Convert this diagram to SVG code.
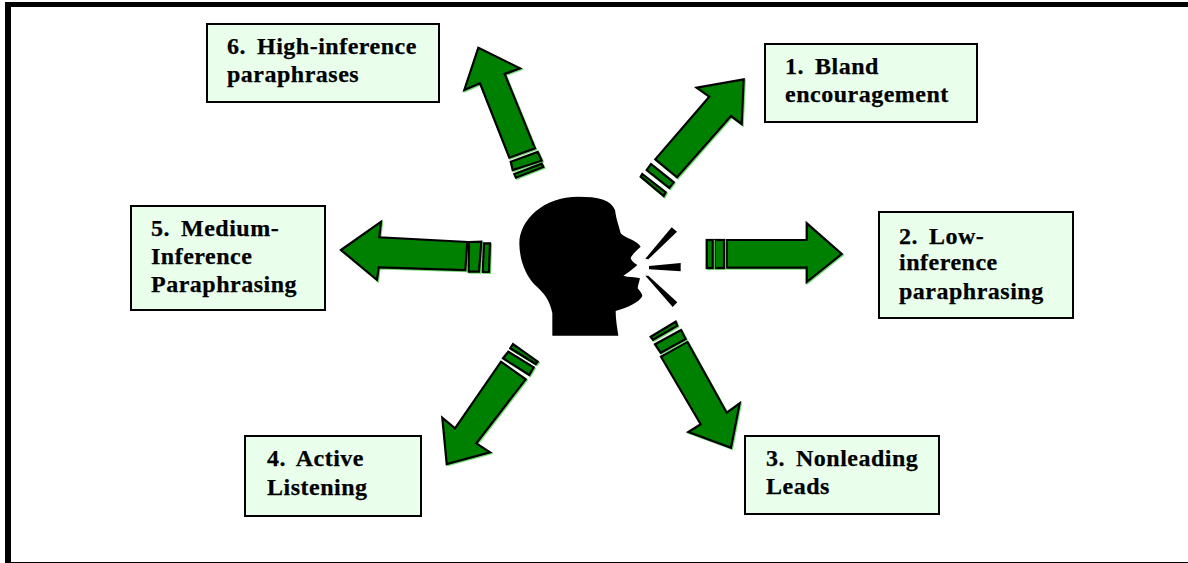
<svg xmlns="http://www.w3.org/2000/svg" width="1188" height="563" viewBox="0 0 1188 563">
<style>
.box{fill:#e9ffec;stroke:#000;stroke-width:2}
.t{font-family:"Liberation Serif","Times New Roman",serif;font-weight:700;font-size:24px;letter-spacing:.5px;word-spacing:-1px;fill:#000;stroke:#000;stroke-width:.25;white-space:pre}
.a{fill:#008000;stroke:#000;stroke-width:2.2;stroke-linejoin:miter;filter:drop-shadow(1px 1px 0 #6fdc6f)}
.s{fill:#000}
</style>
<rect width="1188" height="563" fill="#fff"/>
<g id="frame" fill="#000">
<rect x="5" y="2" width="1183" height="5"/>
<rect x="5" y="2" width="6" height="561"/>
<rect x="5" y="562" width="1183" height="1"/>
</g>
<g id="connectors">
<g id="arrow1">
<polygon class="a" points="743.7,79.3 696.7,87.7 709.3,96.7 655.3,159.3 677,177.3 731,116 741.7,124"/>
<polygon class="a" points="651,164 673.7,182.3 669.3,188 646.7,170"/>
<polygon class="a" points="642.3,174 665.7,192.3 663.7,196 640.7,176.7"/>
</g>
<g id="arrow2">
<polygon class="a" points="726.7,240 806.7,240 806.7,223.3 841.7,254 806.7,282 806.7,267.7 726.7,267.7"/>
<rect class="a" x="714.7" y="240" width="9.3" height="28"/>
<rect class="a" x="706.7" y="240" width="6" height="28"/>
</g>
<g id="arrow3">
<polygon class="a" points="731,447.7 739.7,403.3 726.7,412.7 687.3,341.7 661,356.7 700.7,424.3 688.3,432"/>
<polygon class="a" points="655,344.3 681,330 685.7,339 660.7,352.7"/>
<polygon class="a" points="650.7,336.7 675.7,321.7 677.3,325.7 653,339.7"/>
</g>
<g id="arrow4">
<polygon class="a" points="446.7,464 442.3,417.7 455,428.3 501,361.7 525.7,379.3 476.3,443.3 490,452.3"/>
<polygon class="a" points="503,358.3 508.3,351.7 533.7,367.3 529.3,375"/>
<polygon class="a" points="510.3,348.3 513,344 537.7,361.7 535.7,364"/>
</g>
<g id="arrow5">
<polygon class="a" points="341,250 381,221.7 379.3,237.3 467.3,242 465.3,270 378.7,267.3 377,280"/>
<polygon class="a" points="469,242 481.3,241.7 479,271.7 468.7,271.7"/>
<polygon class="a" points="484,243.3 490,243.3 489,272 482.7,272"/>
</g>
<g id="arrow6">
<polygon class="a" points="478.3,47.7 520,68.3 504.7,74 535,148.3 509.3,157.7 480,83.3 464.3,90"/>
<polygon class="a" points="510.7,161.7 537.7,152 541.7,160.7 512.7,170"/>
<polygon class="a" points="514.3,174 541.7,163.7 543.3,167 516,177.7"/>
</g>
</g>
<g id="speaker" transform="translate(500 180) scale(.33333)">
<path class="s" d="M157 467L157 400C150 362 132 338 105 315C75 285 58 235 58 190C58 120 130 50 235 50C295 50 332 58 345 90C350 125 358 140 362 160C375 175 410 180 422 200C410 210 395 225 392 235C395 245 405 250 412 255C400 265 385 278 370 287C385 292 405 290 420 295C418 305 414 315 413 325C418 332 427 340 427 348C420 365 385 382 347 393C347 420 352 445 355 467Z"/>
<polygon class="s" points="515,142 531,155 445,238 436,236"/>
<polygon class="s" points="447,258 542,249 542,274 447,268"/>
<polygon class="s" points="436,287 445,287 532,367 518,381"/>
</g>
<g id="node6"><rect class="box" x="207" y="24" width="232" height="78"/><text class="t" x="227" y="54">6.  High-inference</text><text class="t" x="227" y="82">paraphrases</text></g>
<g id="node1"><rect class="box" x="765" y="44" width="212" height="78"/><text class="t" x="785" y="74">1.  Bland</text><text class="t" x="785" y="102">encouragement</text></g>
<g id="node5"><rect class="box" x="131" y="206" width="194" height="104"/><text class="t" x="151" y="236">5.  Medium-</text><text class="t" x="151" y="264">Inference</text><text class="t" x="151" y="292">Paraphrasing</text></g>
<g id="node2"><rect class="box" x="879" y="212" width="194" height="106"/><text class="t" x="899" y="244">2.  Low-</text><text class="t" x="899" y="270">inference</text><text class="t" x="899" y="299">paraphrasing</text></g>
<g id="node4"><rect class="box" x="245" y="436" width="176" height="80"/><text class="t" x="267" y="466">4.  Active</text><text class="t" x="267" y="495">Listening</text></g>
<g id="node3"><rect class="box" x="745" y="436" width="194" height="78"/><text class="t" x="766" y="466">3.  Nonleading</text><text class="t" x="766" y="494">Leads</text></g>
</svg>
